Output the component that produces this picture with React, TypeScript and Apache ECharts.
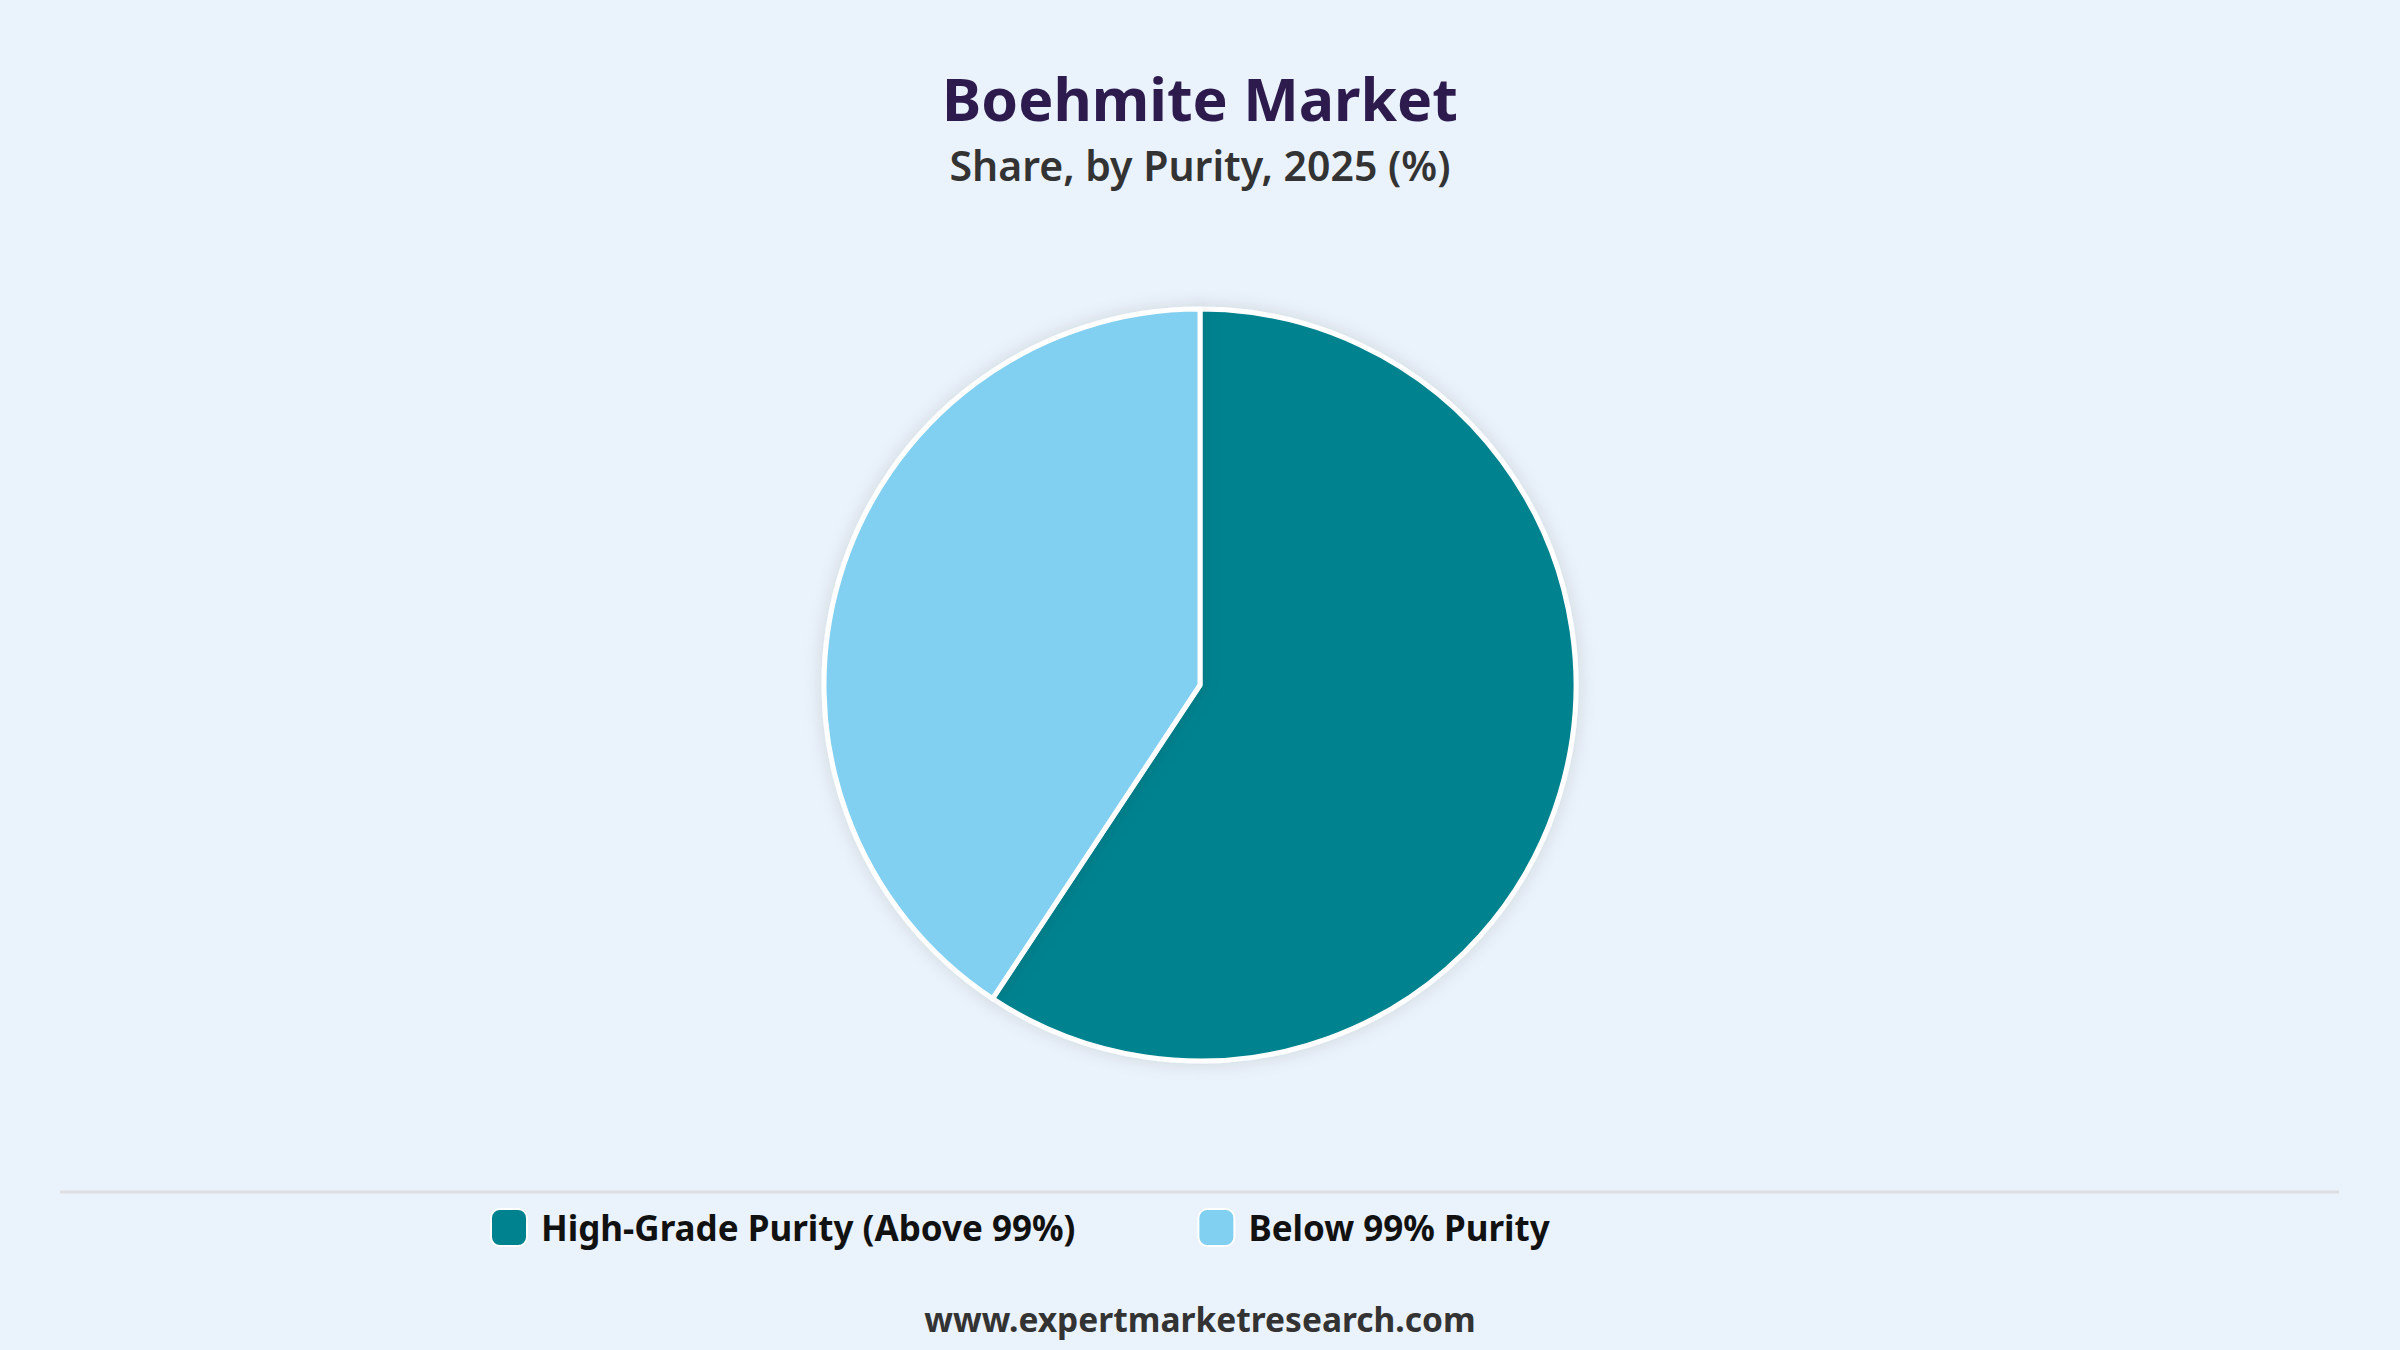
import { useEffect, useRef } from 'react';
import * as echarts from 'echarts';

// Market share by purity, 2025 (%)
const categories = ['High-Grade Purity (Above 99%)', 'Below 99% Purity'];
const shares = [59.3, 40.7];
const colors = ['#00838F', '#81CFF1'];

const titleText = 'Boehmite Market';
const subtitleText = 'Share, by Purity, 2025 (%)';
const footerText = 'www.expertmarketresearch.com';

const FONT = '"Noto Sans", "Open Sans", sans-serif';

export default function App() {
  const chartRef = useRef<HTMLDivElement>(null);

  useEffect(() => {
    if (!chartRef.current) return;
    const chart = echarts.init(chartRef.current, null, { renderer: 'svg' });

    chart.setOption({
      animation: false,
      backgroundColor: '#EAF2FB',
      title: [
        {
          text: titleText,
          left: 'center',
          top: 63,
          textStyle: { color: '#2D1B4E', fontFamily: FONT, fontWeight: 'bold', fontSize: 59 },
        },
        {
          text: subtitleText,
          left: 'center',
          top: 139,
          textStyle: { color: '#333333', fontFamily: FONT, fontWeight: 600, fontSize: 41 },
        },
      ],
      legend: {
        data: categories,
        left: 485,
        top: 1203,
        orient: 'horizontal',
        icon: 'roundRect',
        itemWidth: 36,
        itemHeight: 37,
        itemGap: 122,
        textStyle: { color: '#111111', fontFamily: FONT, fontWeight: 'bold', fontSize: 35, padding: [0, 0, 0, 9] },
      },
      graphic: [
        {
          type: 'line',
          shape: { x1: 60, y1: 1192, x2: 2339, y2: 1192 },
          style: { stroke: '#DCDFE3', lineWidth: 3 },
        },
        {
          type: 'text',
          x: 1200,
          y: 1319,
          style: {
            text: footerText,
            fill: '#333333',
            font: `bold 33.5px ${FONT}`,
            textAlign: 'center',
            textVerticalAlign: 'middle',
          },
        },
      ],
      series: [
        {
          type: 'pie',
          center: [1200, 685],
          radius: 376,
          startAngle: 90,
          clockwise: true,
          label: { show: false },
          labelLine: { show: false },
          emphasis: { disabled: true },
          itemStyle: {
            borderColor: '#FFFFFF',
            borderWidth: 5,
            shadowBlur: 18,
            shadowColor: 'rgba(0, 0, 0, 0.12)',
          },
          data: categories.map((name, i) => ({
            name,
            value: shares[i],
            itemStyle: { color: colors[i] },
          })),
        },
      ],
    });

    return () => {
      chart.dispose();
    };
  }, []);

  return (
    <div
      ref={chartRef}
      style={{ position: 'fixed', left: 0, top: 0, width: '2400px', height: '1350px' }}
    />
  );
}
